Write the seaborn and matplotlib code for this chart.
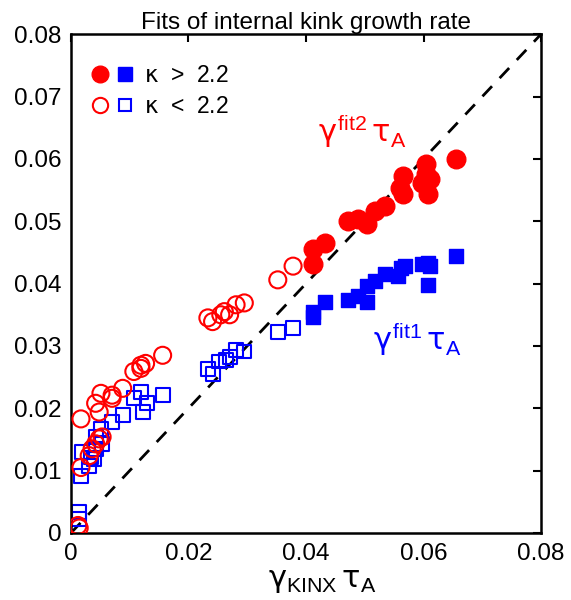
import matplotlib
matplotlib.use("Agg")
import matplotlib.pyplot as plt
import seaborn as sns
from matplotlib.lines import Line2D
from matplotlib.legend_handler import HandlerTuple

# ---------------- data ----------------
# kappa > 2.2 (filled markers)
kinx_gt_fit2 = [0.0412, 0.0412, 0.0433, 0.0471, 0.0488, 0.0503, 0.0517, 0.0534, 0.0560,
                0.0565, 0.0565, 0.0597, 0.0605, 0.0605, 0.0608, 0.0611, 0.0656]
fit2_gt = [0.0455, 0.0431, 0.0465, 0.0500, 0.0503, 0.0495, 0.0517, 0.0525, 0.0554,
           0.0573, 0.0544, 0.0562, 0.0592, 0.0576, 0.0544, 0.0568, 0.0600]
kinx_gt_fit1 = [0.0412, 0.0412, 0.0433, 0.0471, 0.0488, 0.0503, 0.0503, 0.0517, 0.0534,
                0.0557, 0.0562, 0.0568, 0.0597, 0.0608, 0.0611, 0.0608, 0.0656]
fit1_gt = [0.0355, 0.0347, 0.0371, 0.0374, 0.0380, 0.0371, 0.0396, 0.0404, 0.0415,
           0.0412, 0.0425, 0.0428, 0.0431, 0.0433, 0.0428, 0.0398, 0.0444]

# kappa < 2.2 (open markers)
kinx_lt_fit2 = [0.0012, 0.0014, 0.0017, 0.0017, 0.0031, 0.0036, 0.0042, 0.0048, 0.0053,
                0.0042, 0.0048, 0.0051, 0.0070, 0.0070, 0.0088, 0.0107, 0.0119, 0.0119,
                0.0127, 0.0156, 0.0233, 0.0241, 0.0255, 0.0261, 0.0270, 0.0281, 0.0295,
                0.0352, 0.0378]
fit2_lt = [0.0012, 0.0008, 0.0183, 0.0105, 0.0124, 0.0135, 0.0143, 0.0151, 0.0154,
           0.0208, 0.0194, 0.0224, 0.0221, 0.0216, 0.0232, 0.0259, 0.0264, 0.0269,
           0.0272, 0.0285, 0.0345, 0.0339, 0.0350, 0.0355, 0.0350, 0.0366, 0.0369,
           0.0406, 0.0428]
kinx_lt_fit1 = [0.0014, 0.0014, 0.0017, 0.0019, 0.0031, 0.0034, 0.0039, 0.0042, 0.0042,
                0.0051, 0.0053, 0.0070, 0.0088, 0.0107, 0.0119, 0.0130, 0.0122, 0.0156,
                0.0233, 0.0241, 0.0252, 0.0264, 0.0270, 0.0281, 0.0295, 0.0352, 0.0378]
fit1_lt = [0.0033, 0.0022, 0.0092, 0.0130, 0.0108, 0.0121, 0.0119, 0.0154, 0.0135,
           0.0167, 0.0143, 0.0178, 0.0189, 0.0216, 0.0226, 0.0208, 0.0194, 0.0221,
           0.0263, 0.0255, 0.0275, 0.0277, 0.0282, 0.0294, 0.0291, 0.0323, 0.0329]

ticks = [0, 0.02, 0.04, 0.06, 0.08]
tick_labels_x = ["0", "0.02", "0.04", "0.06", "0.08"]
yticks = [0, 0.01, 0.02, 0.03, 0.04, 0.05, 0.06, 0.07, 0.08]
tick_labels_y = ["0", "0.01", "0.02", "0.03", "0.04", "0.05", "0.06", "0.07", "0.08"]
legend_labels = [r"$\kappa$  >  2.2", r"$\kappa$  <  2.2"]

# ---------------- style ----------------
sns.set_theme(style="white")
plt.rcParams["font.family"] = ["Liberation Sans", "DejaVu Sans"]
plt.rcParams["mathtext.fontset"] = "custom"
plt.rcParams["mathtext.rm"] = "Liberation Sans"
plt.rcParams["mathtext.it"] = "DejaVu Sans"
plt.rcParams["mathtext.bf"] = "Liberation Sans:bold"
for k in ["text.color", "axes.labelcolor", "xtick.color", "ytick.color"]:
    plt.rcParams[k] = "black"

RED = "#ff0000"
BLUE = "#0000ff"

fig = plt.figure(figsize=(5.71, 6.0), dpi=100)
ax = fig.add_axes([0.1243, 0.1117, 0.8232, 0.8313])

# diagonal
ax.plot([0, 0.08], [0, 0.08], color="black", lw=2, dashes=(5, 4), zorder=1)

# open markers
sns.scatterplot(x=kinx_lt_fit1, y=fit1_lt, marker="s", s=100, facecolors="none",
                edgecolor=BLUE, linewidth=1.5, ax=ax, zorder=2)
sns.scatterplot(x=kinx_lt_fit2, y=fit2_lt, marker="o", s=150, facecolors="none",
                edgecolor=RED, linewidth=1.5, ax=ax, zorder=3)
# filled markers
sns.scatterplot(x=kinx_gt_fit1, y=fit1_gt, marker="s", s=110, color=BLUE,
                edgecolor=BLUE, linewidth=1, ax=ax, zorder=2)
sns.scatterplot(x=kinx_gt_fit2, y=fit2_gt, marker="o", s=180, color=RED,
                edgecolor=RED, linewidth=1, ax=ax, zorder=3)

ax.set_xlim(0, 0.08)
ax.set_ylim(0, 0.08)
ax.set_xticks(ticks)
ax.set_xticklabels(tick_labels_x)
ax.set_yticks(yticks)
ax.set_yticklabels(tick_labels_y)
ax.tick_params(direction="in", top=True, right=True, length=6, width=1.5,
               labelsize=17.5, colors="black", pad=7)
for sp in ax.spines.values():
    sp.set_linewidth(1.8)
    sp.set_color("black")

ax.set_title("Fits of internal kink growth rate", fontsize=17.5, pad=4, color="black")
ax.set_xlabel(r"$\gamma_{\rm KINX}\,\tau_{\rm A}$", fontsize=22, labelpad=0, x=0.535)

ax.text(0.0420, 0.0627, r"$\gamma^{\rm fit2}\,\tau_{\rm A}$", color=RED, fontsize=22,
        va="baseline", ha="left")
ax.text(0.0514, 0.0294, r"$\gamma^{\rm fit1}\,\tau_{\rm A}$", color=BLUE, fontsize=22,
        va="baseline", ha="left")

# legend
h_rf = Line2D([], [], marker="o", ls="none", markersize=12, color=RED)
h_bf = Line2D([], [], marker="s", ls="none", markersize=10, color=BLUE)
h_ro = Line2D([], [], marker="o", ls="none", markersize=11, markerfacecolor="none",
              markeredgecolor=RED, markeredgewidth=1.5)
h_bo = Line2D([], [], marker="s", ls="none", markersize=9, markerfacecolor="none",
              markeredgecolor=BLUE, markeredgewidth=1.5)
ax.legend(handles=[(h_rf, h_bf), (h_ro, h_bo)], labels=legend_labels,
          handler_map={tuple: HandlerTuple(ndivide=None, pad=0.45)},
          frameon=False, loc="upper left", bbox_to_anchor=(0, 0.984),
          fontsize=16.5, handlelength=1.75,
          handletextpad=0.5, labelspacing=0.36, borderaxespad=0.55)

fig.savefig("out.png", dpi=100)
